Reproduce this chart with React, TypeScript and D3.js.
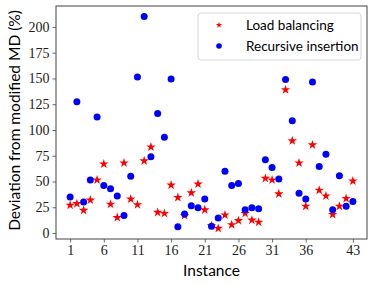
// @ts-nocheck
import { useEffect, useRef } from "react";
import * as d3 from "d3";

const instances = d3.range(1, 44);
const xTicks = [1, 6, 11, 16, 21, 26, 31, 36, 43];
const yTicks = [0, 25, 50, 75, 100, 125, 150, 175, 200];

const loadBalancing = [
  27, 28.5, 22, 32, 51.5, 67, 28, 15, 68, 33,
  27.5, 70, 83.5, 20, 19, 46.5, 34.5, 17, 39, 47.5,
  22.5, 7, 4.5, 17.5, 8, 12, 19, 12.5, 10.5, 53,
  51.5, 38, 139, 89.5, 68, 26, 85.5, 41.5, 36, 18,
  26, 33.5, 50.5,
];
const recursiveInsertion = [
  35, 127.5, 30, 51.5, 112.5, 46, 43, 36, 17, 55,
  151.5, 210, 74, 116, 93, 149.5, 6, 18.5, 26.5, 24.5,
  33, 6.5, 14.5, 60, 46, 48, 22.5, 24.5, 23.5, 71,
  63.5, 52.5, 149, 109, 38.5, 33, 146.5, 64.5, 76.5, 22.5,
  55.5, 26, 30.5,
];
const seriesNames = ["Load balancing", "Recursive insertion"];

const W = 374, H = 285;
const m = { left: 56, right: 367, top: 6, bottom: 239 };
const serif = "'Liberation Serif', serif";
const sans = "Lato, sans-serif";

export default function App() {
  const ref = useRef<SVGSVGElement>(null);

  useEffect(() => {
    const svg = d3.select(ref.current);
    svg.selectAll("*").remove();

    const x = d3.scaleLinear([-1.1, 45.1], [m.left, m.right]);
    const y = d3.scaleLinear([-5.8, 220.3], [m.bottom, m.top]);

    const star = d3.symbol(d3.symbolStar, 28);
    const smallStar = d3.symbol(d3.symbolStar, 12);

    // points
    const g = svg.append("g");
    g.selectAll("path.lb")
      .data(loadBalancing)
      .join("path")
      .attr("class", "lb")
      .attr("d", star)
      .attr("transform", (d, i) => `translate(${x(instances[i])},${y(d)})`)
      .attr("fill", "red");
    g.selectAll("circle.ri")
      .data(recursiveInsertion)
      .join("circle")
      .attr("class", "ri")
      .attr("cx", (d, i) => x(instances[i]))
      .attr("cy", d => y(d))
      .attr("r", 3.5)
      .attr("fill", "blue");

    // axes
    const ax = svg.append("g")
      .attr("transform", `translate(0,${m.bottom})`)
      .call(d3.axisBottom(x).tickValues(xTicks).tickSize(3.5).tickPadding(3));
    const ay = svg.append("g")
      .attr("transform", `translate(${m.left},0)`)
      .call(d3.axisLeft(y).tickValues(yTicks).tickSize(3.5).tickPadding(3));
    for (const a of [ax, ay]) {
      a.select(".domain").remove();
      a.selectAll("line").attr("stroke", "#444").attr("stroke-width", 0.8);
      a.selectAll("text").attr("font-family", serif).attr("font-size", 14).attr("fill", "#222");
    }

    svg.append("rect")
      .attr("x", m.left).attr("y", m.top)
      .attr("width", m.right - m.left).attr("height", m.bottom - m.top)
      .attr("fill", "none").attr("stroke", "#444").attr("stroke-width", 1);

    // axis labels
    svg.append("text")
      .attr("x", (m.left + m.right) / 2).attr("y", 276)
      .attr("text-anchor", "middle")
      .attr("font-family", sans).attr("font-size", 15.5)
      .text("Instance");
    svg.append("text")
      .attr("transform", `translate(20,${(m.top + m.bottom) / 2 - 2}) rotate(-90)`)
      .attr("text-anchor", "middle")
      .attr("font-family", sans).attr("font-size", 15.5)
      .text("Deviation from modified MD (%)");

    // legend
    const lg = svg.append("g").attr("transform", "translate(198,13)");
    lg.append("rect")
      .attr("width", 163).attr("height", 47).attr("rx", 3)
      .attr("fill", "white").attr("fill-opacity", 0.8)
      .attr("stroke", "#ccc").attr("stroke-width", 0.8);
    lg.append("path").attr("d", smallStar).attr("transform", "translate(21,12)").attr("fill", "red");
    lg.append("circle").attr("cx", 21).attr("cy", 33).attr("r", 2.8).attr("fill", "blue");
    lg.selectAll("text.leg")
      .data(seriesNames)
      .join("text")
      .attr("class", "leg")
      .attr("x", 48).attr("y", (d, i) => 12 + i * 21)
      .attr("dy", "0.35em")
      .attr("font-family", sans).attr("font-size", 13.5)
      .text(d => d);
  }, []);

  return (
    <svg ref={ref} width={W} height={H}
      style={{ position: "absolute", left: 0, top: 0, background: "white" }} />
  );
}
